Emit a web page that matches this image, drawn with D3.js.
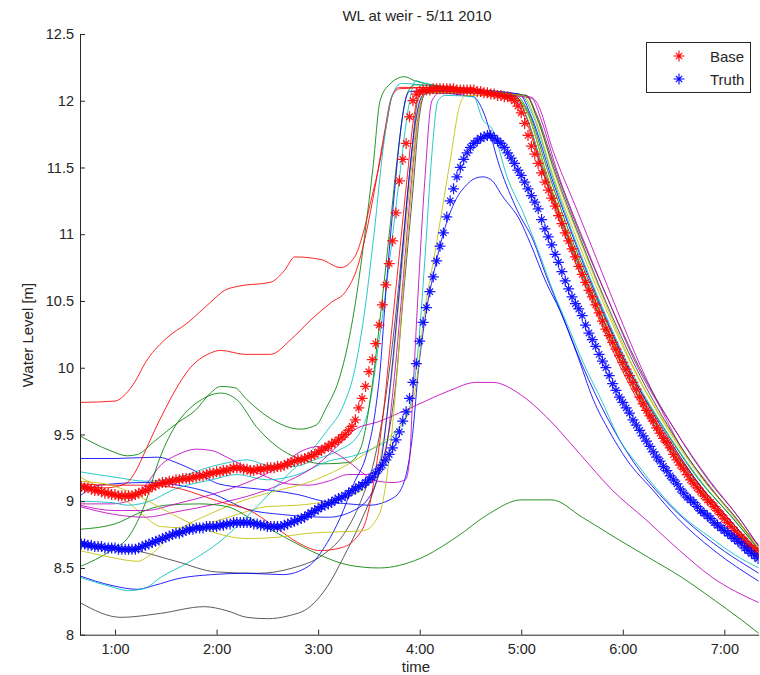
<!DOCTYPE html>
<html>
<head>
<meta charset="utf-8">
<script src="https://cdn.jsdelivr.net/npm/d3@7/dist/d3.min.js"></script>
<style>
body { margin: 0; background: #fff; }
text { font-family: "Liberation Sans", Arial, sans-serif; fill: #262626; }
</style>
</head>
<body>
<div id="chart"></div>
<script>
// axis ticks
var xTicks = [60, 120, 180, 240, 300, 360, 420];
var xTickLabels = ["1:00", "2:00", "3:00", "4:00", "5:00", "6:00", "7:00"];
var yTicks = [8, 8.5, 9, 9.5, 10, 10.5, 11, 11.5, 12, 12.5];

// Base run: [minute, water level]
var basePts = [
  [40,9.11],[42,9.10],[44,9.10],[46,9.09],[48,9.08],[50,9.08],[52,9.07],[54,9.06],[56,9.06],[58,9.05],
  [60,9.05],[62,9.04],[64,9.04],[66,9.04],[68,9.04],[70,9.04],[72,9.05],[74,9.06],[76,9.07],[78,9.08],
  [80,9.09],[82,9.11],[84,9.12],[86,9.13],[88,9.14],[90,9.14],[92,9.15],[94,9.15],[96,9.16],[98,9.16],
  [100,9.17],[102,9.17],[104,9.17],[106,9.18],[108,9.18],[110,9.19],[112,9.19],[114,9.20],[116,9.21],[118,9.21],
  [120,9.22],[122,9.22],[124,9.23],[126,9.23],[128,9.24],[130,9.25],[132,9.25],[134,9.25],[136,9.24],[138,9.24],
  [140,9.23],[142,9.23],[144,9.24],[146,9.24],[148,9.24],[150,9.25],[152,9.25],[154,9.25],[156,9.26],[158,9.26],
  [160,9.27],[162,9.28],[164,9.29],[166,9.30],[168,9.31],[170,9.31],[172,9.32],[174,9.33],[176,9.34],[178,9.35],
  [180,9.37],[182,9.38],[184,9.40],[186,9.41],[188,9.43],[190,9.44],[192,9.46],[194,9.48],[196,9.50],[198,9.53],
  [200,9.56],[202,9.61],[204,9.70],[206,9.77],[208,9.86],[210,9.97],[212,10.06],[214,10.18],[216,10.32],[218,10.47],
  [220,10.62],[222,10.78],[224,10.95],[226,11.16],[228,11.40],[230,11.56],[232,11.68],[234,11.88],[236,12.00],[238,12.05],
  [240,12.07],[242,12.08],[244,12.08],[246,12.08],[248,12.09],[250,12.09],[252,12.09],[254,12.09],[256,12.09],[258,12.09],
  [260,12.09],[262,12.08],[264,12.08],[266,12.08],[268,12.08],[270,12.08],[272,12.08],[274,12.07],[276,12.07],[278,12.06],
  [280,12.06],[282,12.05],[284,12.05],[286,12.04],[288,12.04],[290,12.03],[292,12.03],[294,12.02],[296,12.00],[298,11.96],
  [300,11.91],[302,11.83],[304,11.74],[306,11.66],[308,11.60],[310,11.53],[312,11.46],[314,11.39],[316,11.33],[318,11.27],
  [320,11.21],[322,11.14],[324,11.08],[326,11.01],[328,10.95],[330,10.89],[332,10.83],[334,10.76],[336,10.70],[338,10.64],
  [340,10.58],[342,10.53],[344,10.47],[346,10.41],[348,10.35],[350,10.29],[352,10.24],[354,10.19],[356,10.14],[358,10.09],
  [360,10.04],[362,9.99],[364,9.94],[366,9.89],[368,9.84],[370,9.78],[372,9.73],[374,9.68],[376,9.64],[378,9.60],
  [380,9.55],[382,9.51],[384,9.47],[386,9.44],[388,9.40],[390,9.35],[392,9.31],[394,9.27],[396,9.24],[398,9.20],
  [400,9.16],[402,9.13],[404,9.10],[406,9.07],[408,9.04],[410,9.01],[412,8.99],[414,8.96],[416,8.93],[418,8.90],
  [420,8.87],[422,8.84],[424,8.81],[426,8.78],[428,8.75],[430,8.73],[432,8.70],[434,8.67],[436,8.65],[438,8.63],
  [440,8.61]
];

// Truth: [minute, water level]
var truthPts = [
  [40,8.68],[42,8.68],[44,8.67],[46,8.67],[48,8.66],[50,8.66],[52,8.66],[54,8.65],[56,8.65],[58,8.65],
  [60,8.65],[62,8.64],[64,8.64],[66,8.64],[68,8.64],[70,8.64],[72,8.64],[74,8.65],[76,8.66],[78,8.67],
  [80,8.68],[82,8.69],[84,8.70],[86,8.71],[88,8.72],[90,8.73],[92,8.74],[94,8.75],[96,8.76],[98,8.76],
  [100,8.77],[102,8.78],[104,8.79],[106,8.79],[108,8.80],[110,8.80],[112,8.80],[114,8.81],[116,8.81],[118,8.81],
  [120,8.81],[122,8.82],[124,8.82],[126,8.83],[128,8.83],[130,8.84],[132,8.84],[134,8.84],[136,8.84],[138,8.84],
  [140,8.84],[142,8.83],[144,8.83],[146,8.82],[148,8.82],[150,8.81],[152,8.81],[154,8.81],[156,8.81],[158,8.81],
  [160,8.82],[162,8.83],[164,8.84],[166,8.85],[168,8.86],[170,8.87],[172,8.88],[174,8.90],[176,8.91],[178,8.93],
  [180,8.94],[182,8.96],[184,8.97],[186,8.98],[188,8.99],[190,9.01],[192,9.02],[194,9.03],[196,9.04],[198,9.06],
  [200,9.08],[202,9.09],[204,9.11],[206,9.12],[208,9.14],[210,9.16],[212,9.18],[214,9.21],[216,9.24],[218,9.27],
  [220,9.31],[222,9.35],[224,9.40],[226,9.46],[228,9.52],[230,9.60],[232,9.67],[234,9.77],[236,9.89],[238,10.03],
  [240,10.20],[242,10.34],[244,10.45],[246,10.57],[248,10.68],[250,10.80],[252,10.91],[254,11.01],[256,11.13],[258,11.25],
  [260,11.34],[262,11.43],[264,11.50],[266,11.56],[268,11.61],[270,11.65],[272,11.68],[274,11.70],[276,11.72],[278,11.73],
  [280,11.74],[282,11.74],[284,11.72],[286,11.70],[288,11.68],[290,11.65],[292,11.61],[294,11.57],[296,11.53],[298,11.48],
  [300,11.44],[302,11.39],[304,11.34],[306,11.29],[308,11.24],[310,11.19],[312,11.11],[314,11.04],[316,10.98],[318,10.92],
  [320,10.85],[322,10.79],[324,10.72],[326,10.65],[328,10.59],[330,10.53],[332,10.48],[334,10.44],[336,10.39],[338,10.32],
  [340,10.26],[342,10.21],[344,10.16],[346,10.10],[348,10.05],[350,10.00],[352,9.94],[354,9.88],[356,9.83],[358,9.78],
  [360,9.74],[362,9.70],[364,9.66],[366,9.61],[368,9.57],[370,9.53],[372,9.49],[374,9.45],[376,9.41],[378,9.37],
  [380,9.33],[382,9.30],[384,9.26],[386,9.23],[388,9.19],[390,9.16],[392,9.13],[394,9.09],[396,9.06],[398,9.03],
  [400,9.01],[402,8.99],[404,8.96],[406,8.93],[408,8.91],[410,8.89],[412,8.87],[414,8.84],[416,8.82],[418,8.80],
  [420,8.78],[422,8.76],[424,8.74],[426,8.72],[428,8.70],[430,8.68],[432,8.65],[434,8.63],[436,8.61],[438,8.59],
  [440,8.57]
];

// ensemble members: [hour, water level]
var R1 = [[0.655,9.74],[1.0,9.75],[1.1,9.8],[1.2,9.9],[1.3,10.04],[1.49,10.21],[1.72,10.34],[1.94,10.49],[2.08,10.58],[2.21,10.61],[2.53,10.64],[2.67,10.73],[2.77,10.83],[3.03,10.81],[3.22,10.75],[3.36,10.83],[3.44,11.0],[3.52,11.25],[3.61,11.55],[3.68,11.85],[3.73,12.04],[3.8,12.1],[4.2,12.1],[4.6,12.08],[4.95,12.03],[5.05,11.88],[5.2,11.53],[5.45,11.02],[5.7,10.55],[6.0,10.05],[6.35,9.57],[6.7,9.18],[7.0,8.9],[7.34,8.63]];
var R2 = [[0.655,9.12],[0.9,9.1],[1.1,9.13],[1.2,9.22],[1.3,9.38],[1.39,9.53],[1.5,9.7],[1.6,9.84],[1.72,9.98],[1.94,10.11],[2.04,10.13],[2.28,10.1],[2.53,10.1],[2.73,10.21],[2.93,10.36],[3.13,10.49],[3.27,10.57],[3.39,10.76],[3.47,11.0],[3.56,11.35],[3.65,11.75],[3.72,12.02],[3.8,12.09],[4.2,12.1],[4.9,12.04],[5.02,11.9],[5.2,11.5],[5.45,10.98],[5.7,10.52],[6.0,10.0],[6.35,9.52],[6.7,9.14],[7.0,8.87],[7.34,8.6]];
var R3 = [[0.655,9.13],[1.0,9.12],[1.3,9.12],[1.6,9.1],[1.9,9.03],[2.1,8.98],[2.3,8.94],[2.57,8.81],[2.8,8.69],[3.02,8.63],[3.22,8.65],[3.38,8.73],[3.48,8.88],[3.56,9.2],[3.64,9.65],[3.72,10.25],[3.8,10.85],[3.88,11.45],[3.95,11.92],[4.01,12.06],[4.5,12.07],[4.95,12.03],[5.05,11.88],[5.2,11.5],[5.45,10.95],[5.7,10.48],[6.0,9.97],[6.35,9.5],[6.7,9.12],[7.0,8.86],[7.34,8.58]];
var G1 = [[0.655,9.49],[0.95,9.38],[1.12,9.34],[1.22,9.35],[1.39,9.45],[1.62,9.59],[1.79,9.68],[1.94,9.81],[2.04,9.86],[2.18,9.85],[2.3,9.76],[2.55,9.61],[2.82,9.54],[2.98,9.57],[3.08,9.7],[3.2,9.9],[3.3,10.2],[3.38,10.55],[3.46,11.0],[3.54,11.5],[3.61,12.0],[3.7,12.12],[3.85,12.18],[3.95,12.15],[4.2,12.11],[4.9,12.05],[5.05,11.93],[5.25,11.45],[5.5,10.9],[5.75,10.45],[6.05,9.95],[6.4,9.5],[6.75,9.12],[7.05,8.86],[7.34,8.62]];
var G2 = [[0.655,8.51],[0.96,8.63],[1.13,8.73],[1.3,8.99],[1.42,9.28],[1.59,9.56],[1.69,9.66],[1.85,9.76],[2.04,9.81],[2.2,9.76],[2.39,9.56],[2.65,9.38],[2.85,9.31],[3.05,9.28],[3.3,9.29],[3.42,9.4],[3.52,9.8],[3.6,10.3],[3.7,11.0],[3.8,11.7],[3.87,12.04],[3.95,12.12],[4.5,12.08],[4.95,12.04],[5.08,11.9],[5.25,11.5],[5.5,10.96],[5.75,10.5],[6.05,10.0],[6.4,9.55],[6.75,9.16],[7.05,8.9],[7.34,8.64]];
var G3 = [[0.655,8.79],[1.0,8.83],[1.23,8.91],[1.5,8.97],[1.83,8.98],[2.1,8.96],[2.36,8.86],[2.72,8.71],[2.98,8.61],[3.31,8.52],[3.6,8.5],[4.0,8.57],[4.36,8.73],[4.69,8.91],[5.0,9.01],[5.3,9.01],[5.6,8.88],[5.92,8.73],[6.25,8.58],[6.58,8.43],[6.9,8.26],[7.17,8.11],[7.34,8.01]];
var B1 = [[0.655,9.32],[1.0,9.32],[1.42,9.33],[1.6,9.29],[1.78,9.23],[2.02,9.13],[2.3,9.1],[2.55,9.08],[2.8,9.05],[3.05,9.0],[3.3,8.98],[3.5,8.97],[3.75,9.03],[3.86,9.18],[3.93,9.5],[3.99,10.0],[4.06,10.4],[4.15,10.75],[4.25,11.05],[4.35,11.25],[4.45,11.36],[4.55,11.42],[4.62,11.43],[4.7,11.41],[4.82,11.28],[4.99,11.1],[5.09,10.93],[5.25,10.63],[5.38,10.43],[5.55,10.1],[5.71,9.76],[5.87,9.52],[6.04,9.31],[6.3,9.08],[6.53,8.88],[6.9,8.63],[7.34,8.4]];
var B2 = [[0.655,9.04],[0.85,9.12],[1.3,9.14],[1.62,9.12],[1.95,9.06],[2.3,8.94],[2.65,8.9],[3.1,8.88],[3.35,8.93],[3.54,9.08],[3.62,9.3],[3.7,9.8],[3.79,10.5],[3.88,11.3],[3.96,11.85],[4.03,12.04],[4.1,12.06],[4.53,12.03],[4.62,11.93],[4.79,11.5],[4.96,11.18],[5.12,10.95],[5.25,10.68],[5.4,10.4],[5.6,10.02],[5.85,9.62],[6.1,9.3],[6.4,9.02],[6.8,8.74],[7.34,8.46]];
var B3 = [[0.655,8.44],[0.96,8.37],[1.22,8.34],[1.39,8.37],[1.62,8.42],[1.95,8.45],[2.3,8.46],[2.65,8.45],[2.9,8.51],[3.09,8.69],[3.22,8.88],[3.35,9.13],[3.48,9.36],[3.56,9.66],[3.61,9.98],[3.67,10.6],[3.75,11.3],[3.83,11.88],[3.9,12.07],[4.5,12.08],[4.98,12.05],[5.1,11.88],[5.3,11.42],[5.55,10.9],[5.8,10.43],[6.1,9.93],[6.45,9.47],[6.8,9.08],[7.1,8.82],[7.34,8.6]];
var C1 = [[0.655,9.22],[1.0,9.18],[1.3,9.15],[1.62,9.18],[1.95,9.26],[2.12,9.29],[2.3,9.31],[2.5,9.27],[2.75,9.26],[3.0,9.32],[3.2,9.38],[3.4,9.5],[3.5,9.7],[3.6,10.2],[3.7,10.78],[3.8,11.42],[3.89,11.95],[3.96,12.15],[4.05,12.13],[4.6,12.08],[5.0,12.04],[5.12,11.88],[5.3,11.45],[5.55,10.92],[5.8,10.45],[6.1,9.95],[6.45,9.5],[6.8,9.12],[7.1,8.86],[7.34,8.63]];
var C2 = [[0.655,9.0],[0.96,8.99],[1.13,8.97],[1.3,8.99],[1.62,9.1],[1.95,9.16],[2.2,9.2],[2.5,9.16],[2.8,9.2],[3.1,9.3],[3.35,9.34],[3.55,9.4],[3.75,9.5],[3.9,9.7],[3.98,10.1],[4.05,10.8],[4.12,11.6],[4.18,12.0],[4.25,12.04],[4.53,12.03],[4.62,11.86],[4.72,11.78],[4.86,11.43],[5.02,11.16],[5.19,10.83],[5.31,10.58],[5.45,10.33],[5.61,10.04],[5.8,9.74],[5.97,9.46],[6.17,9.25],[6.37,9.06],[6.6,8.88],[6.86,8.73],[7.1,8.6],[7.34,8.5]];
var C3 = [[0.655,8.43],[0.96,8.36],[1.13,8.33],[1.3,8.35],[1.45,8.43],[1.72,8.54],[2.02,8.69],[2.32,8.9],[2.65,9.16],[2.9,9.35],[3.08,9.52],[3.25,9.72],[3.35,9.95],[3.45,10.38],[3.55,11.0],[3.65,11.7],[3.73,12.04],[3.82,12.13],[4.2,12.1],[4.9,12.05],[5.03,11.92],[5.22,11.48],[5.47,10.95],[5.72,10.48],[6.02,9.98],[6.38,9.5],[6.72,9.12],[7.02,8.86],[7.34,8.6]];
var M1 = [[0.655,8.98],[0.96,8.98],[1.13,9.0],[1.3,9.12],[1.45,9.27],[1.62,9.35],[1.8,9.39],[1.95,9.38],[2.1,9.33],[2.3,9.25],[2.5,9.18],[2.7,9.13],[2.9,9.12],[3.1,9.15],[3.3,9.2],[3.45,9.2],[3.58,9.22],[3.66,9.35],[3.74,9.85],[3.83,10.6],[3.92,11.4],[4.0,11.95],[4.07,12.06],[4.6,12.06],[5.08,12.03],[5.15,11.99],[5.32,11.61],[5.55,11.18],[5.75,10.8],[5.95,10.42],[6.17,10.02],[6.37,9.7],[6.57,9.41],[6.86,9.11],[7.12,8.86],[7.34,8.67]];
var M2 = [[0.655,8.96],[1.0,8.9],[1.3,8.88],[1.6,8.92],[2.0,8.98],[2.4,9.06],[2.7,9.15],[3.0,9.28],[3.2,9.42],[3.35,9.53],[3.61,9.6],[3.97,9.72],[4.3,9.83],[4.55,9.89],[4.72,9.89],[4.99,9.8],[5.25,9.63],[5.57,9.36],[5.9,9.08],[6.23,8.86],[6.56,8.63],[6.88,8.43],[7.34,8.24]];
var M3 = [[0.655,8.97],[1.0,8.93],[1.3,8.93],[1.6,8.98],[1.95,9.05],[2.3,9.14],[2.6,9.25],[2.85,9.38],[3.0,9.41],[3.15,9.37],[3.31,9.29],[3.44,9.21],[3.58,9.15],[3.74,9.14],[3.86,9.16],[3.9,9.31],[3.93,9.76],[3.98,10.5],[4.05,11.4],[4.12,12.0],[4.2,12.06],[4.7,12.05],[5.1,12.02],[5.2,11.85],[5.35,11.48],[5.6,10.98],[5.85,10.52],[6.15,10.0],[6.5,9.55],[6.85,9.16],[7.12,8.9],[7.34,8.66]];
var Y1 = [[0.655,9.18],[0.96,9.06],[1.13,8.99],[1.3,8.88],[1.45,8.81],[1.72,8.8],[1.95,8.84],[2.2,8.9],[2.5,8.96],[2.8,8.97],[3.1,9.0],[3.35,9.05],[3.52,9.15],[3.62,9.35],[3.72,9.9],[3.82,10.7],[3.92,11.5],[4.0,12.0],[4.07,12.06],[4.6,12.06],[5.05,12.03],[5.15,11.88],[5.33,11.45],[5.58,10.95],[5.83,10.48],[6.12,9.98],[6.47,9.52],[6.82,9.14],[7.12,8.87],[7.34,8.65]];
var Y2 = [[0.655,8.63],[0.96,8.58],[1.22,8.55],[1.35,8.6],[1.58,8.76],[1.95,8.91],[2.28,9.01],[2.6,9.08],[2.9,9.14],[3.15,9.22],[3.35,9.3],[3.55,9.4],[3.75,9.52],[3.9,9.68],[3.97,9.9],[4.02,10.25],[4.17,10.95],[4.3,11.55],[4.4,11.98],[4.46,12.04],[4.9,12.03],[5.05,11.92],[5.25,11.45],[5.5,10.92],[5.75,10.45],[6.05,9.95],[6.4,9.48],[6.75,9.1],[7.05,8.84],[7.34,8.6]];
var Y3 = [[0.655,9.15],[0.96,9.12],[1.2,9.05],[1.45,8.95],[1.7,8.85],[2.0,8.76],[2.3,8.72],[2.6,8.73],[2.9,8.76],[3.2,8.77],[3.45,8.78],[3.6,8.9],[3.68,9.2],[3.76,9.8],[3.84,10.6],[3.93,11.4],[4.0,11.95],[4.06,12.06],[4.6,12.06],[5.02,12.04],[5.12,11.9],[5.3,11.47],[5.55,10.96],[5.8,10.5],[6.1,10.0],[6.45,9.53],[6.8,9.15],[7.1,8.88],[7.34,8.64]];
var K1 = [[0.655,8.66],[1.0,8.65],[1.2,8.63],[1.6,8.55],[2.0,8.47],[2.4,8.46],[2.75,8.5],[3.05,8.6],[3.25,8.75],[3.42,9.0],[3.55,9.3],[3.65,9.7],[3.75,10.3],[3.83,10.9],[3.92,11.6],[3.98,12.0],[4.05,12.07],[4.6,12.07],[5.05,12.04],[5.15,11.9],[5.33,11.5],[5.58,11.0],[5.85,10.52],[6.15,10.02],[6.5,9.55],[6.85,9.15],[7.15,8.87],[7.34,8.66]];
var K2 = [[0.655,8.24],[1.06,8.13],[1.45,8.16],[1.88,8.21],[2.1,8.18],[2.3,8.13],[2.5,8.12],[2.7,8.14],[2.92,8.21],[3.09,8.36],[3.25,8.58],[3.41,8.83],[3.58,9.16],[3.68,9.45],[3.76,9.85],[3.84,10.55],[3.93,11.3],[4.0,11.9],[4.06,12.06],[4.6,12.06],[5.05,12.04],[5.15,11.88],[5.33,11.47],[5.58,10.97],[5.83,10.5],[6.13,10.0],[6.48,9.52],[6.83,9.13],[7.13,8.86],[7.34,8.63]];

var colours = {
  b: "#0000ff", g: "#008000", r: "#ff0000", c: "#00bfbf",
  m: "#bf00bf", y: "#bfbf00", k: "#404040"
};
var members = [
  {pts: B1, c: "b"}, {pts: G1, c: "g"}, {pts: R1, c: "r"}, {pts: C1, c: "c"}, {pts: M1, c: "m"}, {pts: Y1, c: "y"}, {pts: K1, c: "k"},
  {pts: B2, c: "b"}, {pts: G2, c: "g"}, {pts: R2, c: "r"}, {pts: C2, c: "c"}, {pts: M2, c: "m"}, {pts: Y2, c: "y"}, {pts: K2, c: "k"},
  {pts: B3, c: "b"}, {pts: G3, c: "g"}, {pts: R3, c: "r"}, {pts: C3, c: "c"}, {pts: M3, c: "m"}, {pts: Y3, c: "y"}
];

var plotLeft = 80, plotRight = 758.7, plotTop = 34, plotBottom = 634.7;

var x = d3.scaleLinear().domain([39.3, 440.3]).range([plotLeft, plotRight]);
var y = d3.scaleLinear().domain([8, 12.5]).range([plotBottom, plotTop]);

var svg = d3.select("#chart").append("svg")
    .attr("width", 760)
    .attr("height", 675);

svg.append("defs").append("clipPath").attr("id", "plot")
  .append("rect")
    .attr("x", plotLeft).attr("y", plotTop)
    .attr("width", plotRight - plotLeft).attr("height", plotBottom - plotTop);

var plot = svg.append("g").attr("clip-path", "url(#plot)");

var line = d3.line()
    .x(function (d) { return x(d[0] * 60); })
    .y(function (d) { return y(d[1]); })
    .curve(d3.curveMonotoneX);

plot.append("g").selectAll("path")
    .data(members)
    .enter().append("path")
    .attr("d", function (d) { return line(d.pts); })
    .attr("fill", "none")
    .attr("stroke", function (d) { return colours[d.c]; })
    .attr("stroke-opacity", 0.85)
    .attr("stroke-width", 1);

// MATLAB style '*' marker
var star = "M0,-5.5V5.5M-5.5,0H5.5M-3.2,-3.2L3.2,3.2M-3.2,3.2L3.2,-3.2";

function markers(pts, col) {
    plot.append("g").selectAll("path")
        .data(pts)
        .enter().append("path")
        .attr("d", star)
        .attr("transform", function (d) { return "translate(" + x(d[0]) + "," + y(d[1]) + ")"; })
        .attr("fill", "none")
        .attr("stroke", col)
        .attr("stroke-opacity", 0.9)
        .attr("stroke-width", 1.25);
}
markers(basePts, "#ff0000");
markers(truthPts, "#0000ff");

// axes
var xAxis = d3.axisBottom(x)
    .tickValues(xTicks)
    .tickFormat(function (d, i) { return xTickLabels[i]; })
    .tickSizeInner(-5).tickSizeOuter(0).tickPadding(9.5);
var yAxis = d3.axisLeft(y)
    .tickValues(yTicks)
    .tickFormat(d3.format(""))
    .tickSizeInner(-5).tickSizeOuter(0).tickPadding(6);

var gx = svg.append("g").attr("transform", "translate(0," + plotBottom + ")").call(xAxis);
var gy = svg.append("g").attr("transform", "translate(" + plotLeft + ",0)").call(yAxis);
[gx, gy].forEach(function (g) {
    g.attr("font-family", null).attr("font-size", null);
    g.selectAll("path, line").attr("stroke", "#262626");
    g.selectAll("text").style("font-size", "14.5px").attr("fill", "#262626");
});

// titles
svg.append("text")
    .attr("x", 417).attr("y", 21)
    .attr("text-anchor", "middle")
    .style("font-size", "15px")
    .text("WL at weir - 5/11 2010");
svg.append("text")
    .attr("x", 416).attr("y", 672)
    .attr("text-anchor", "middle")
    .style("font-size", "15px")
    .text("time");
svg.append("text")
    .attr("transform", "translate(33,335) rotate(-90)")
    .attr("text-anchor", "middle")
    .style("font-size", "15px")
    .text("Water Level [m]");

// legend
var legend = svg.append("g");
legend.append("rect")
    .attr("x", 646.5).attr("y", 42.5)
    .attr("width", 104).attr("height", 50)
    .attr("fill", "#fff")
    .attr("stroke", "#262626");
[["Base", "#ff0000", 56], ["Truth", "#0000ff", 79]].forEach(function (e) {
    legend.append("path")
        .attr("d", star)
        .attr("transform", "translate(679," + e[2] + ")")
        .attr("fill", "none")
        .attr("stroke", e[1])
        .attr("stroke-width", 1.1);
    legend.append("text")
        .attr("x", 710).attr("y", e[2] + 5.5)
        .style("font-size", "15px")
        .text(e[0]);
});
</script>
</body>
</html>
